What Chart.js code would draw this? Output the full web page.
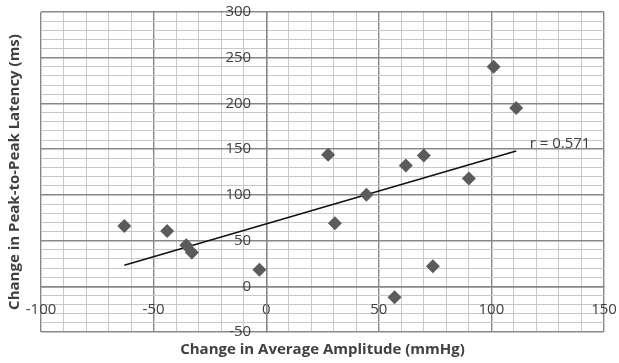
<!DOCTYPE html>
<html>
<head>
<meta charset="utf-8">
<script src="https://cdn.jsdelivr.net/npm/chart.js@4"></script>
<style>
  html,body{margin:0;padding:0;background:#fff;}
  #wrap{width:619px;height:363px;}
</style>
</head>
<body>
<div id="wrap"><canvas id="chart" width="619" height="363"></canvas></div>
<script>
// change in average amplitude (mmHg) vs change in peak-to-peak latency (ms)
const ampChange = [-63, -44, -35.5, -33, -3, 27.5, 30.5, 44.5, 57, 62, 70, 74, 90, 101, 111];
const latChange = [66, 60.5, 45, 37, 18, 144, 69, 100, -12, 132, 143, 22, 118, 240, 195];
const trendX = [-63, 111];
const trendY = [23, 148];
const rLabel = 'r = 0.571';
const xTitle = 'Change in Average Amplitude (mmHg)';
const yTitle = 'Change in Peak-to-Peak Latency (ms)';

const pts = ampChange.map((x,i)=>({x, y: latChange[i]}));
const trend = trendX.map((x,i)=>({x, y: trendY[i]}));

const isMajor = (ctx)=> ctx.tick && ctx.tick.value % 50 === 0;
const gridCol = (ctx)=> isMajor(ctx) ? '#888888' : '#c8c8c8';
const gridW = (ctx)=> isMajor(ctx) ? 1.4 : 1;
const xTickCb = (v)=> (v % 50 === 0 ? String(v) : '');
// y labels sit left of the x=0 axis; en spaces give the gap (padding is ignored for object positions)
const yTickCb = (v)=> (v % 50 === 0 ? String(v) + '\u2002\u2002' : '');

const textPlugin = {
  id: 'texts',
  afterDraw(chart){
    const c = chart.ctx, xs = chart.scales.x, ys = chart.scales.y, a = chart.chartArea;
    c.save();
    c.fillStyle = '#404040';
    c.font = 'bold 15px "Open Sans"';
    c.textAlign = 'center';
    c.textBaseline = 'middle';
    c.fillText(xTitle, (a.left + a.right)/2, 350);
    c.translate(15, (a.top + a.bottom)/2);
    c.rotate(-Math.PI/2);
    c.fillText(yTitle, 0, 0);
    c.restore();
    c.save();
    c.fillStyle = '#404040';
    c.font = '15px "Open Sans"';
    c.textAlign = 'left';
    c.textBaseline = 'middle';
    c.fillText(rLabel, xs.getPixelForValue(117), ys.getPixelForValue(156));
    c.restore();
  }
};

new Chart(document.getElementById('chart'), {
  type: 'scatter',
  data: {
    datasets: [
      { data: pts, pointStyle: 'rectRot', pointRadius: 7, pointHoverRadius: 7,
        backgroundColor: '#5b5b5b', borderColor: '#5b5b5b', borderWidth: 0 },
      { type: 'line', data: trend, borderColor: '#111', borderWidth: 1.5,
        pointRadius: 0, fill: false }
    ]
  },
  options: {
    responsive: false,
    animation: false,
    layout: { padding: { left: 41, right: 15, top: 12, bottom: 31 } },
    plugins: { legend: { display: false }, tooltip: { enabled: false } },
    scales: {
      x: {
        type: 'linear', min: -100, max: 150, position: { y: 0 },
        // tall line height pushes the labels down without widening the side padding
        ticks: { stepSize: 10, autoSkip: false, maxRotation: 0, callback: xTickCb,
                 color: '#404040', font: { family: 'Open Sans', size: 15, lineHeight: 2.8 }, padding: 2 },
        grid: { color: gridCol, lineWidth: gridW, drawTicks: false },
        border: { color: '#888888', width: 1.4 }
      },
      y: {
        type: 'linear', min: -50, max: 300, position: { x: 0 },
        ticks: { stepSize: 10, autoSkip: false, callback: yTickCb,
                 color: '#404040', font: { family: 'Open Sans', size: 15 } },
        grid: { color: gridCol, lineWidth: gridW, drawTicks: false },
        border: { color: '#888888', width: 1.4 }
      }
    }
  },
  plugins: [textPlugin]
});
</script>
</body>
</html>
